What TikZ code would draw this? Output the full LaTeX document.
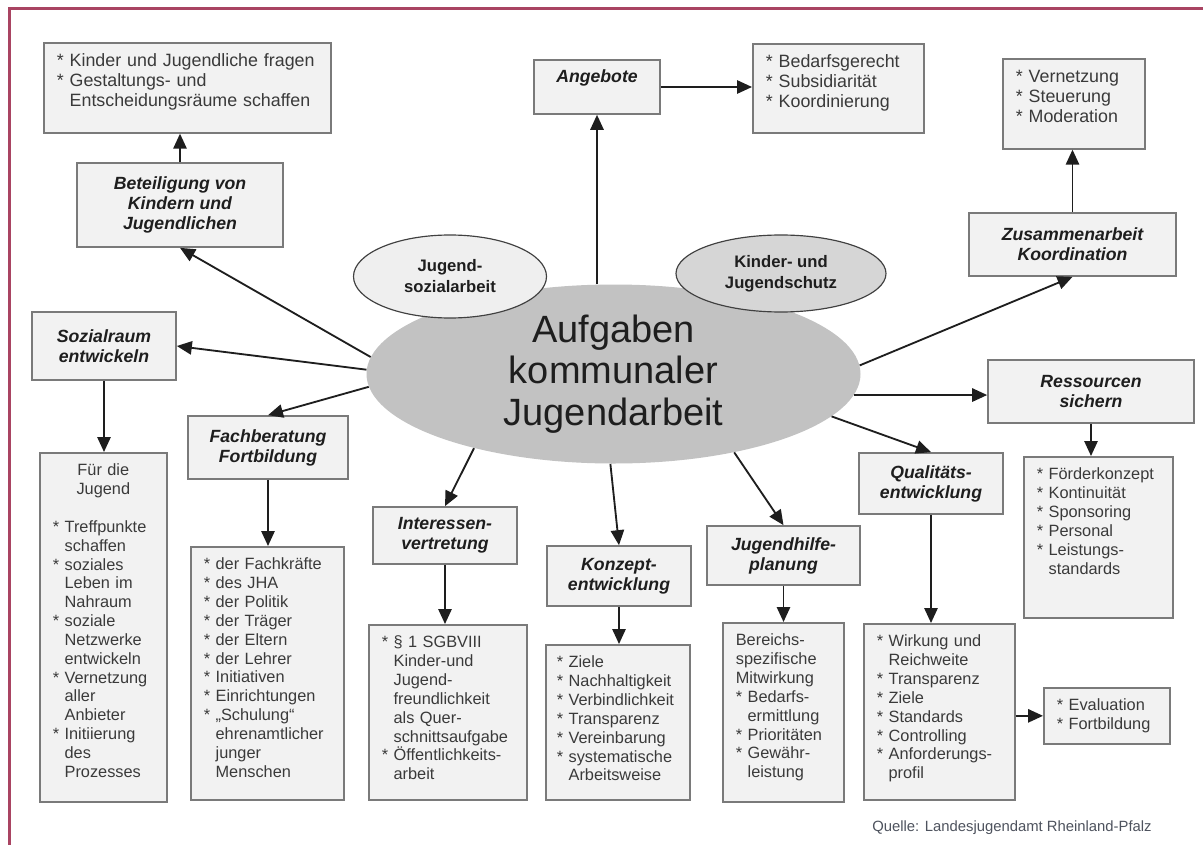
\documentclass[tikz,border=0pt]{standalone}
\usepackage{fontspec}
\setmainfont{Liberation Sans}
\usetikzlibrary{arrows.meta,shapes.geometric,calc}
\definecolor{ink}{HTML}{1E1E1E}
\definecolor{listink}{HTML}{3A3A3A}
\definecolor{boxline}{HTML}{7A7A7A}
\definecolor{boxfill}{HTML}{F2F2F2}
\definecolor{hub}{HTML}{C2C2C2}
\definecolor{sidewash}{HTML}{EFEFEF}
\definecolor{sidegray}{HTML}{D6D6D6}
\definecolor{rim}{HTML}{A94462}
\definecolor{srcink}{HTML}{4E535E}
\newdimen\pix \pix=0.6pt
\newcommand\itm{*\ }
\newcommand\indt{\hphantom{*\ }}
\hyphenpenalty=10000 \exhyphenpenalty=10000
\tikzset{box/.style={draw=boxline,fill=boxfill,line width=1pt,inner sep=0pt},head/.style={box,align=center,text=ink,font=\bfseries\itshape\fontsize{10.6}{12}\selectfont},list/.style={box,anchor=north west,align=left,text=listink,inner xsep=13\pix,inner ysep=0pt,text height=23\pix,font=\fontsize{9.8}{11.3}\selectfont},biglist/.style={list,text height=24\pix,font=\fontsize{10.7}{12}\selectfont},side/.style={ellipse,draw=ink!85,line width=.7pt,inner sep=0pt,align=center,text=ink,font=\bfseries\fontsize{10}{12.6}\selectfont},arr/.style={-{Triangle[length=9pt,width=8pt]},draw=ink,line width=1.1pt},src/.style={inner sep=0pt,text=srcink,font=\fontsize{8.9}{10}\selectfont}}

\begin{document}
\begin{tikzpicture}[x=0.6pt,y=-0.6pt]
\useasboundingbox (0,0) rectangle (1203,845);
\fill[white] (0,0) rectangle (1203,845);
\draw[draw=rim,line width=1.8pt] (1203,9)--(9,9)--(9,845);

\node[ellipse,fill=hub,minimum width=494\pix,minimum height=179\pix,inner sep=0pt,align=center,text=ink,font=\fontsize{22.8}{24.9}\selectfont] (hub) at (613.5,374) {Aufgaben\\kommunaler\\Jugendarbeit};
\node[side,fill=sidewash,minimum width=193\pix,minimum height=83\pix] (jsa) at (450,276.5) {Jugend-\\sozialarbeit};
\node[side,fill=sidegray,minimum width=210\pix,minimum height=77\pix] (kjs) at (781,273.5) {Kinder- und\\Jugendschutz};

\node[biglist,text width=261\pix,text depth=66\pix] (beteillist) at (43,42) {\itm Kinder und Jugendliche fragen\\\itm Gestaltungs- und\\\indt Entscheidungsräume schaffen};
\node[head,minimum width=206\pix,minimum height=84\pix] (beteil) at (180,205) {Beteiligung von\\Kindern und\\Jugendlichen};
\node[head,minimum width=126\pix,minimum height=54\pix,text height=13\pix,text depth=22\pix] (angebote) at (597,87) {Angebote};
\node[biglist,text width=145\pix,text depth=65\pix] (bedarf) at (752,43) {\itm Bedarfsgerecht\\\itm Subsidiarität\\\itm Koordinierung};
\node[biglist,text width=116\pix,text depth=66\pix] (vernetz) at (1002,58) {\itm Vernetzung\\\itm Steuerung\\\itm Moderation};
\node[head,minimum width=207\pix,minimum height=63\pix] (zusam) at (1072.5,244.5) {Zusammenarbeit\\Koordination};
\node[head,minimum width=144\pix,minimum height=68\pix] (soz) at (104,346) {Sozialraum\\entwickeln};
\node[list,text width=101\pix,text depth=326\pix] (sozlist) at (39,452) {\makebox[\linewidth]{Für die}\\\makebox[\linewidth]{Jugend}\\[11.3pt]\itm Treffpunkte\\\indt schaffen\\\itm soziales\\\indt Leben im\\\indt Nahraum\\\itm soziale\\\indt Netzwerke\\\indt entwickeln\\\itm Vernetzung\\\indt aller\\\indt Anbieter\\\itm Initiierung\\\indt des\\\indt Prozesses};
\node[head,minimum width=160\pix,minimum height=63\pix] (fach) at (268,447.5) {Fachberatung\\Fortbildung};
\node[list,text width=127\pix,text depth=230\pix] (fachlist) at (190,546) {\itm der Fachkräfte\\\itm des JHA\\\itm der Politik\\\itm der Träger\\\itm der Eltern\\\itm der Lehrer\\\itm Initiativen\\\itm Einrichtungen\\\itm „Schulung“\\\indt ehrenamtlicher\\\indt junger\\\indt Menschen};
\node[head,minimum width=144\pix,minimum height=57\pix] (inter) at (445,535.5) {Interessen-\\vertretung};
\node[list,text width=132\pix,text depth=152\pix] (interlist) at (368,624) {\itm § 1 SGBVIII\\\indt Kinder-und\\\indt Jugend-\\\indt freundlichkeit\\\indt als Quer-\\\indt schnittsaufgabe\\\itm Öffentlichkeits-\\\indt arbeit};
\node[head,minimum width=144\pix,minimum height=60\pix] (konzept) at (619,576) {Konzept-\\entwicklung};
\node[list,inner xsep=11\pix,text width=122\pix,text depth=132\pix] (konzlist) at (545,644) {\itm Ziele\\\itm Nachhaltigkeit\\\itm Verbindlichkeit\\\itm Transparenz\\\itm Vereinbarung\\\itm systematische\\\indt Arbeitsweise};
\node[head,minimum width=153\pix,minimum height=59\pix] (jhp) at (783.5,555.5) {Jugendhilfe-\\planung};
\node[list,text width=95\pix,text depth=156\pix] (jhplist) at (722,622) {Bereichs-\\spezifische\\Mitwirkung\\\itm Bedarfs-\\\indt ermittlung\\\itm Prioritäten\\\itm Gewähr-\\\indt leistung};
\node[head,minimum width=144\pix,minimum height=61\pix] (qual) at (931,483.5) {Qualitäts-\\entwicklung};
\node[list,text width=125\pix,text depth=153\pix] (quallist) at (863,623) {\itm Wirkung und\\\indt Reichweite\\\itm Transparenz\\\itm Ziele\\\itm Standards\\\itm Controlling\\\itm Anforderungs-\\\indt profil};
\node[list,text width=100\pix,text depth=33\pix] (eval) at (1043,687) {\itm Evaluation\\\itm Fortbildung};
\node[head,minimum width=206\pix,minimum height=63\pix] (res) at (1091,391.5) {Ressourcen\\sichern};
\node[list,text width=123\pix,text depth=138\pix] (reslist) at (1023,456) {\itm Förderkonzept\\\itm Kontinuität\\\itm Sponsoring\\\itm Personal\\\itm Leistungs-\\\indt standards};
\node[src] (quelle) at (1012,828) {Quelle: Landesjugendamt Rheinland-Pfalz};

\draw[arr] (hub.north -| angebote.south)--(angebote.south); \draw[arr] (angebote.east)--(angebote.east -| bedarf.west);
\draw[arr] (hub.176.5)--(beteil.south); \draw[arr] (beteil.north)--(beteil.north |- beteillist.south);
\draw[arr] (hub.179.4)--(soz.east); \draw[arr] (soz.south)--(soz.south |- sozlist.north);
\draw[arr] (hub.183)--(fach.north); \draw[arr] (fach.south)--(fach.south |- fachlist.north);
\draw[arr] (hub.208)--(inter.north); \draw[arr] (inter.south)--(inter.south |- interlist.north);
\draw[arr] (hub.268)--(konzept.north); \draw[arr] (konzept.south)--(konzept.south |- konzlist.north);
\draw[arr] (hub.327.8)--(jhp.north); \draw[arr] (jhp.south)--(jhp.south |- jhplist.north);
\draw[arr] (hub.349.6)--(qual.north); \draw[arr] (qual.south)--(qual.south |- quallist.north); \draw[arr] (eval.west -| quallist.east)--(eval.west);
\draw[arr] (hub.355.5)--(hub.355.5 -| res.west); \draw[arr] (res.south)--(res.south |- reslist.north);
\draw[arr] (hub.2)--(zusam.south); \draw[arr] (zusam.north)--(zusam.north |- vernetz.south);
\end{tikzpicture}
\end{document}
